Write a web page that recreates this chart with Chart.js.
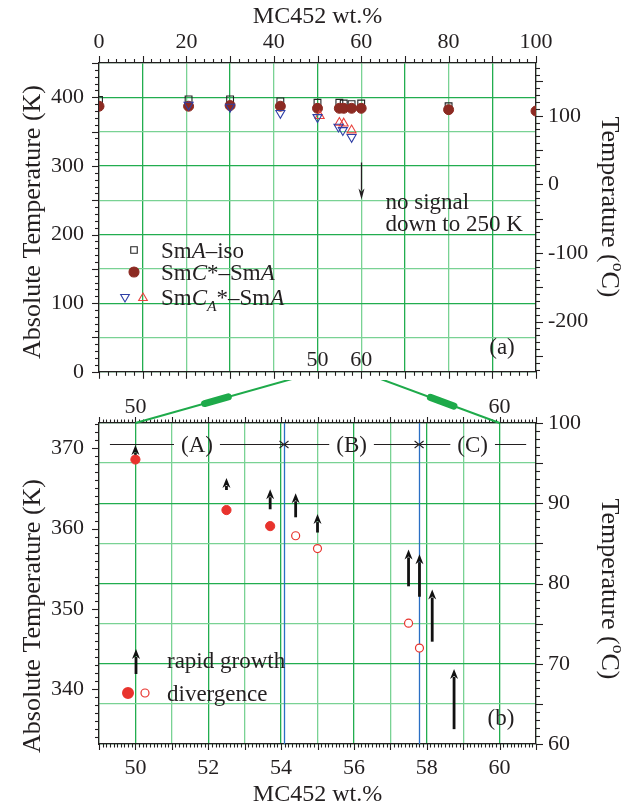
<!DOCTYPE html>
<html>
<head>
<meta charset="utf-8">
<script src="https://cdn.jsdelivr.net/npm/chart.js@4.4.1/dist/chart.umd.min.js"></script>
<style>
  body { margin: 0; background: #fff; }
  #wrap { position: relative; width: 631px; height: 808px; }
  canvas { position: absolute; left: 0; }
  #top { top: 0; }
  #bot { top: 380px; }
</style>
</head>
<body>
<div id="wrap">
  <canvas id="top" width="631" height="400"></canvas>
  <canvas id="bot" width="631" height="428"></canvas>
</div>
<script>
const FONT = '"Liberation Serif", "Times New Roman", serif';
const INK = "#231f20";
const GREEN = "#22ad4f";
const GREEN_LIGHT = "#79d294";
const BOT_OFFSET = 380; // page y of the lower canvas

// (a) whole composition range, MC452 wt.% vs K
const pctAiso = [0, 20.5, 30, 41.5, 50, 55, 56, 57.8, 60, 80];
const kAiso = [396, 397, 397, 394, 392, 392, 391, 390, 391, 387];
const pctCstar = [0, 20.5, 30, 41.5, 50, 55, 56, 57.8, 60, 80, 100];
const kCstar = [387, 387, 388, 387, 384, 384, 384, 384, 384, 382, 380];
const pctCAdown = [20.5, 30, 41.5, 50, 54.8, 55.8, 57.8];
const kCAdown = [389, 386, 377, 371, 357, 352, 342];
const pctCAup = [50.5, 55, 56, 57.8];
const kCAup = [373, 363, 362, 352];
const noSignalPct = 60;
const noSignalFromK = 305;
const noSignalToK = 251;

// (b) zoom 49-61 wt.%
const pctDivFilled = [50, 52.5, 53.7];
const kDivFilled = [368.6, 362.3, 360.3];
const pctDivOpen = [54.4, 55, 57.5, 57.8];
const kDivOpen = [359.1, 357.5, 348.2, 345.1];
const pctGrowth = [50, 52.5, 53.7, 54.4, 55, 57.5, 57.8, 58.15, 58.75];
const kGrowthTip = [370.4, 366.3, 364.9, 364.4, 361.8, 357.4, 356.8, 352.4, 342.5];
const kGrowthTail = [369.2, 364.8, 362.4, 361.4, 359.5, 352.8, 351.5, 345.9, 335.0];
const regionBounds = [49.3, 54.08, 57.79, 60.73];
const regionNames = ["(A)", "(B)", "(C)"];
const regionK = 370.55;

function pts(xs, ys) {
  return xs.map((x, i) => ({ x: x, y: ys[i] }));
}

function range(from, to, step) {
  let out = [];
  let n = Math.round((to - from) / step);
  for (let i = 0; i <= n; i++) out.push(+(from + i * step).toFixed(6));
  return out;
}

function isMult(v, m) {
  return Math.abs(v / m - Math.round(v / m)) < 1e-6;
}

function font(size, italic) {
  return (italic ? "italic " : "") + size + "px " + FONT;
}

// parts: [text, flags] flags may hold "i", "sub", "sup"
function richWidth(ctx, parts, size) {
  let w = 0;
  parts.forEach(p => {
    let f = p[1] || "";
    let fs = f.includes("sub") || f.includes("sup") ? size * 0.68 : size;
    ctx.font = font(fs, f.includes("i"));
    w += ctx.measureText(p[0]).width;
  });
  return w;
}

function drawRich(ctx, x, yMid, parts, size, align) {
  let w = richWidth(ctx, parts, size);
  let cx = align === "center" ? x - w / 2 : x;
  let base = yMid + size * 0.34;
  ctx.textBaseline = "alphabetic";
  ctx.textAlign = "left";
  parts.forEach(p => {
    let f = p[1] || "";
    let small = f.includes("sub") || f.includes("sup");
    let fs = small ? size * 0.68 : size;
    let dy = f.includes("sub") ? size * 0.25 : f.includes("sup") ? -size * 0.4 : 0;
    ctx.font = font(fs, f.includes("i"));
    ctx.fillText(p[0], cx, base + dy);
    cx += ctx.measureText(p[0]).width;
  });
}

function drawRotated(ctx, x, y, angle, parts, size) {
  ctx.save();
  ctx.translate(x, y);
  ctx.rotate(angle);
  drawRich(ctx, 0, 0, parts, size, "center");
  ctx.restore();
}

function arrow(ctx, x, yFrom, yTo, shaft, headW, headL) {
  let dir = yTo < yFrom ? -1 : 1;
  ctx.lineWidth = shaft;
  ctx.beginPath();
  ctx.moveTo(x, yFrom);
  ctx.lineTo(x, yTo - dir * (headL - 2));
  ctx.stroke();
  ctx.beginPath();
  ctx.moveTo(x, yTo);
  ctx.lineTo(x - headW, yTo - dir * headL);
  ctx.lineTo(x, yTo - dir * (headL - 3));
  ctx.lineTo(x + headW, yTo - dir * headL);
  ctx.closePath();
  ctx.fill();
}

function makeAxis(o) {
  return {
    type: "linear",
    position: o.pos,
    min: o.min,
    max: o.max,
    afterBuildTicks: s => { s.ticks = o.values.map(v => ({ value: v })); },
    afterFit: s => {
      if (o.pos === "top" || o.pos === "bottom") s.height = o.size;
      else s.width = o.size;
    },
    ticks: {
      display: !!o.label,
      autoSkip: false,
      maxRotation: 0,
      padding: o.pad || 0,
      color: INK,
      font: { family: FONT, size: 22 },
      callback: v => (o.label && o.label(v) ? String(Math.round(v)) : "")
    },
    grid: o.grid
      ? { color: c => o.grid(c.tick.value), lineWidth: 1.3, drawTicks: false }
      : { display: false, drawTicks: false },
    border: { display: true, color: INK, width: 1.3 }
  };
}

// major / minor tick marks drawn outward from the frame
const minorTicks = {
  id: "minorTicks",
  afterDraw(chart, args, opts) {
    const ctx = chart.ctx;
    const a = chart.chartArea;
    ctx.save();
    ctx.strokeStyle = INK;
    ctx.lineWidth = 1.1;
    opts.specs.forEach(sp => {
      const sc = chart.scales[sp.id];
      range(sp.from, sp.to, sp.step).forEach(v => {
        if (v < sc.min - 1e-6 || v > sc.max + 1e-6) return;
        const len = isMult(v, sp.major) ? sp.long : sp.short;
        const p = Math.round(sc.getPixelForValue(v)) + 0.5;
        ctx.beginPath();
        if (sp.edge === "top") { ctx.moveTo(p, a.top); ctx.lineTo(p, a.top - len); }
        if (sp.edge === "bottom") { ctx.moveTo(p, a.bottom); ctx.lineTo(p, a.bottom + len); }
        if (sp.edge === "left") { ctx.moveTo(a.left, p); ctx.lineTo(a.left - len, p); }
        if (sp.edge === "right") { ctx.moveTo(a.right, p); ctx.lineTo(a.right + len, p); }
        ctx.stroke();
      });
    });
    ctx.restore();
  }
};

const noPts = "rgba(0,0,0,0)";

// ---------- panel (a) ----------
const topNotes = {
  id: "topNotes",
  afterDraw(chart) {
    const ctx = chart.ctx;
    const a = chart.chartArea;
    const sx = chart.scales.x;
    const sy = chart.scales.y;
    ctx.save();
    ctx.fillStyle = INK;
    ctx.strokeStyle = INK;

    drawRich(ctx, (a.left + a.right) / 2, 15, [["MC452 wt.%"]], 24, "center");
    drawRotated(ctx, 31, 222, -Math.PI / 2, [["Absolute Temperature (K)"]], 26);
    drawRotated(ctx, 611, 207, Math.PI / 2, [["Temperature ("], ["o", "sup"], ["C)"]], 26);

    // zoom window labels
    drawRich(ctx, sx.getPixelForValue(50), a.bottom - 13, [["50"]], 22, "center");
    drawRich(ctx, sx.getPixelForValue(60), a.bottom - 13, [["60"]], 22, "center");
    drawRich(ctx, a.right - 34, a.bottom - 26, [["(a)"]], 23, "center");

    // no signal arrow
    const ax = Math.round(sx.getPixelForValue(noSignalPct)) + 0.5;
    const y0 = sy.getPixelForValue(noSignalFromK);
    const y1 = sy.getPixelForValue(noSignalToK);
    arrow(ctx, ax, y0, y1, 1.3, 3, 11);
    drawRich(ctx, ax + 24, y1 + 2, [["no signal"]], 23, "left");
    drawRich(ctx, ax + 24, y1 + 24, [["down to 250 K"]], 23, "left");

    // legend
    const H = Chart.helpers;
    ctx.lineWidth = 1.1;
    ctx.strokeStyle = "#222";
    ctx.fillStyle = noPts;
    H.drawPoint(ctx, { pointStyle: "rect", radius: 4.6, borderWidth: 1.1 }, 134, 250);
    ctx.fillStyle = "#8c2a22";
    ctx.strokeStyle = "#8c2a22";
    H.drawPoint(ctx, { pointStyle: "circle", radius: 5, borderWidth: 1 }, 134, 272);
    ctx.fillStyle = noPts;
    ctx.strokeStyle = "#2f3fa6";
    H.drawPoint(ctx, { pointStyle: "triangle", radius: 5, rotation: 180, borderWidth: 1.1 }, 125, 297);
    ctx.strokeStyle = "#e8413c";
    H.drawPoint(ctx, { pointStyle: "triangle", radius: 5, rotation: 0, borderWidth: 1.1 }, 143, 298);
    ctx.fillStyle = INK;
    drawRich(ctx, 161, 250, [["Sm"], ["A", "i"], ["\u2013iso"]], 23, "left");
    drawRich(ctx, 161, 272, [["Sm"], ["C", "i"], ["*\u2013Sm"], ["A", "i"]], 23, "left");
    drawRich(ctx, 161, 297, [["Sm"], ["C", "i"], ["A", "i sub"], ["*\u2013Sm"], ["A", "i"]], 23, "left");
    ctx.restore();
  }
};

const topChart = new Chart(document.getElementById("top"), {
  type: "scatter",
  data: {
    datasets: [
      {
        label: "SmCA*-SmA (down)",
        data: pts(pctCAdown, kCAdown),
        pointStyle: "triangle", pointRotation: 180, pointRadius: 5.2,
        pointBorderColor: "#2f3fa6", pointBackgroundColor: noPts, pointBorderWidth: 1.1,
        clip: 0
      },
      {
        label: "SmCA*-SmA (up)",
        data: pts(pctCAup, kCAup),
        pointStyle: "triangle", pointRadius: 5.2,
        pointBorderColor: "#e8413c", pointBackgroundColor: noPts, pointBorderWidth: 1.1,
        clip: 0
      },
      {
        label: "SmC*-SmA",
        data: pts(pctCstar, kCstar),
        pointStyle: "circle", pointRadius: 5,
        pointBorderColor: "#8c2a22", pointBackgroundColor: "#8c2a22", pointBorderWidth: 1,
        clip: 0
      },
      {
        label: "SmA-iso",
        data: pts(pctAiso, kAiso),
        pointStyle: "rect", pointRadius: 4.8,
        pointBorderColor: "#222", pointBackgroundColor: noPts, pointBorderWidth: 1.1,
        clip: 0
      }
    ]
  },
  options: {
    responsive: false,
    animation: false,
    layout: { padding: 0 },
    plugins: {
      legend: { display: false },
      tooltip: { enabled: false },
      minorTicks: {
        specs: [
          { id: "x", edge: "top", from: 0, to: 100, step: 2, major: 10, long: 7, short: 4 },
          { id: "x2", edge: "bottom", from: 0, to: 100, step: 2, major: 10, long: 7, short: 4 },
          { id: "y", edge: "left", from: 0, to: 450, step: 10, major: 50, long: 7, short: 4 },
          { id: "y2", edge: "right", from: -270, to: 170, step: 10, major: 50, long: 7, short: 4 }
        ]
      }
    },
    scales: {
      x: makeAxis({ pos: "top", min: 0, max: 100, values: range(0, 100, 10), size: 63, pad: 8,
        label: v => isMult(v, 20), grid: v => (isMult(v, 20) ? GREEN_LIGHT : GREEN) }),
      x2: makeAxis({ pos: "bottom", min: 0, max: 100, values: range(0, 100, 10), size: 16 }),
      y: makeAxis({ pos: "left", min: 0, max: 450, values: range(0, 450, 50), size: 99, pad: 15,
        label: v => isMult(v, 100), grid: v => (isMult(v, 100) ? GREEN : GREEN_LIGHT) }),
      y2: makeAxis({ pos: "right", min: -273.15, max: 176.85, values: [-200, -100, 0, 100], size: 95, pad: 12,
        label: v => true })
    }
  },
  plugins: [minorTicks, topNotes]
});

// ---------- panel (b) ----------
const botUnder = {
  id: "botUnder",
  beforeDatasetsDraw(chart) {
    const ctx = chart.ctx;
    const a = chart.chartArea;
    const sx = chart.scales.x2;
    ctx.save();
    ctx.strokeStyle = "#2a6fc4";
    ctx.lineWidth = 1.3;
    [regionBounds[1], regionBounds[2]].forEach(v => {
      const p = Math.round(sx.getPixelForValue(v)) + 0.5;
      ctx.beginPath();
      ctx.moveTo(p, a.top);
      ctx.lineTo(p, a.bottom);
      ctx.stroke();
    });
    ctx.restore();
  }
};

const botNotes = {
  id: "botNotes",
  afterDraw(chart) {
    const ctx = chart.ctx;
    const a = chart.chartArea;
    const sx = chart.scales.x2;
    const sy = chart.scales.y;
    ctx.save();
    ctx.fillStyle = INK;
    ctx.strokeStyle = INK;

    drawRich(ctx, (a.left + a.right) / 2, 413, [["MC452 wt.%"]], 24, "center");
    drawRotated(ctx, 31, 236, -Math.PI / 2, [["Absolute Temperature (K)"]], 26);
    drawRotated(ctx, 611, 209, Math.PI / 2, [["Temperature ("], ["o", "sup"], ["C)"]], 26);
    drawRich(ctx, a.right - 35, a.bottom - 27, [["(b)"]], 23, "center");

    // region bar (A) (B) (C)
    const ry = Math.round(sy.getPixelForValue(regionK)) + 0.5;
    ctx.lineWidth = 1.1;
    for (let i = 0; i < regionNames.length; i++) {
      const p0 = sx.getPixelForValue(regionBounds[i]);
      const p1 = sx.getPixelForValue(regionBounds[i + 1]);
      const mid = (p0 + p1) / 2;
      ctx.font = font(23);
      const half = ctx.measureText(regionNames[i]).width / 2 + 7;
      ctx.beginPath();
      ctx.moveTo(p0 + (i > 0 ? 1 : 0), ry);
      ctx.lineTo(mid - half, ry);
      ctx.moveTo(mid + half, ry);
      ctx.lineTo(p1 - (i < regionNames.length - 1 ? 1 : 0), ry);
      ctx.stroke();
      drawRich(ctx, mid, ry, [[regionNames[i]]], 23, "center");
    }
    [regionBounds[1], regionBounds[2]].forEach(v => {
      const p = sx.getPixelForValue(v);
      ctx.beginPath();
      ctx.moveTo(p - 4.5, ry - 3.5); ctx.lineTo(p, ry); ctx.lineTo(p - 4.5, ry + 3.5);
      ctx.moveTo(p + 4.5, ry - 3.5); ctx.lineTo(p, ry); ctx.lineTo(p + 4.5, ry + 3.5);
      ctx.stroke();
    });

    // rapid growth arrows
    ctx.fillStyle = "#111";
    ctx.strokeStyle = "#111";
    pctGrowth.forEach((v, i) => {
      const x = sx.getPixelForValue(v);
      arrow(ctx, x, sy.getPixelForValue(kGrowthTail[i]), sy.getPixelForValue(kGrowthTip[i]), 2.8, 4, 10);
    });

    // legend
    arrow(ctx, a.left + 37, a.top + 251, a.top + 226, 2.8, 4, 10);
    ctx.fillStyle = INK;
    drawRich(ctx, a.left + 68, a.top + 237, [["rapid growth"]], 23, "left");
    drawRich(ctx, a.left + 68, a.top + 270, [["divergence"]], 23, "left");
    ctx.fillStyle = "#e8332d";
    ctx.strokeStyle = "#e8332d";
    Chart.helpers.drawPoint(ctx, { pointStyle: "circle", radius: 4.6, borderWidth: 1 }, a.left + 29, a.top + 270);
    ctx.fillStyle = "#fff";
    ctx.lineWidth = 1.2;
    ctx.beginPath();
    ctx.arc(a.left + 46, a.top + 270, 4, 0, Math.PI * 2);
    ctx.fill();
    ctx.stroke();

    // link to panel (a)
    const tx = topChart.scales.x;
    const ty = topChart.chartArea.bottom - BOT_OFFSET;
    ctx.strokeStyle = "#1eaa4a";
    [[50, 0.49, 0.62], [60, 0.5, 0.67]].forEach(l => {
      const xTop = tx.getPixelForValue(l[0]);
      const xBot = chart.scales.x.getPixelForValue(l[0]);
      ctx.lineWidth = 2;
      ctx.beginPath();
      ctx.moveTo(xTop, ty);
      ctx.lineTo(xBot, a.top);
      ctx.stroke();
      const px = t => xTop + (xBot - xTop) * t;
      const py = t => ty + (a.top - ty) * t;
      ctx.lineWidth = 7;
      ctx.lineCap = "round";
      ctx.beginPath();
      ctx.moveTo(px(l[1]), py(l[1]));
      ctx.lineTo(px(l[2]), py(l[2]));
      ctx.stroke();
      ctx.lineCap = "butt";
    });
    ctx.restore();
  }
};

const botChart = new Chart(document.getElementById("bot"), {
  type: "scatter",
  data: {
    datasets: [
      {
        label: "divergence (filled)",
        data: pts(pctDivFilled, kDivFilled),
        xAxisID: "x2",
        pointStyle: "circle", pointRadius: 4.6,
        pointBorderColor: "#e8332d", pointBackgroundColor: "#e8332d", pointBorderWidth: 1
      },
      {
        label: "divergence (open)",
        data: pts(pctDivOpen, kDivOpen),
        xAxisID: "x2",
        pointStyle: "circle", pointRadius: 4,
        pointBorderColor: "#e8332d", pointBackgroundColor: "#fff", pointBorderWidth: 1.2
      }
    ]
  },
  options: {
    responsive: false,
    animation: false,
    layout: { padding: 0 },
    plugins: {
      legend: { display: false },
      tooltip: { enabled: false },
      minorTicks: {
        specs: [
          { id: "x", edge: "top", from: 49, to: 61, step: 0.1, major: 1, long: 6, short: 3.5 },
          { id: "x2", edge: "bottom", from: 49, to: 61, step: 0.1, major: 1, long: 6, short: 3.5 },
          { id: "y", edge: "left", from: 334, to: 373, step: 1, major: 10, long: 7, short: 4 },
          { id: "y2", edge: "right", from: 60, to: 100, step: 1, major: 5, long: 7, short: 4 }
        ]
      }
    },
    scales: {
      x: makeAxis({ pos: "top", min: 49, max: 61, values: [50, 60], size: 43, pad: 3,
        label: v => true }),
      x2: makeAxis({ pos: "bottom", min: 49, max: 61, values: range(49, 61, 1), size: 64, pad: 11,
        label: v => isMult(v, 2), grid: v => (isMult(v, 2) ? GREEN : GREEN_LIGHT) }),
      y: makeAxis({ pos: "left", min: 333.15, max: 373.15, values: [340, 350, 360, 370], size: 99, pad: 15,
        label: v => true }),
      y2: makeAxis({ pos: "right", min: 60, max: 100, values: range(60, 100, 5), size: 95, pad: 12,
        label: v => isMult(v, 10), grid: v => (isMult(v, 10) ? GREEN : GREEN_LIGHT) })
    }
  },
  plugins: [minorTicks, botUnder, botNotes]
});
</script>
</body>
</html>
